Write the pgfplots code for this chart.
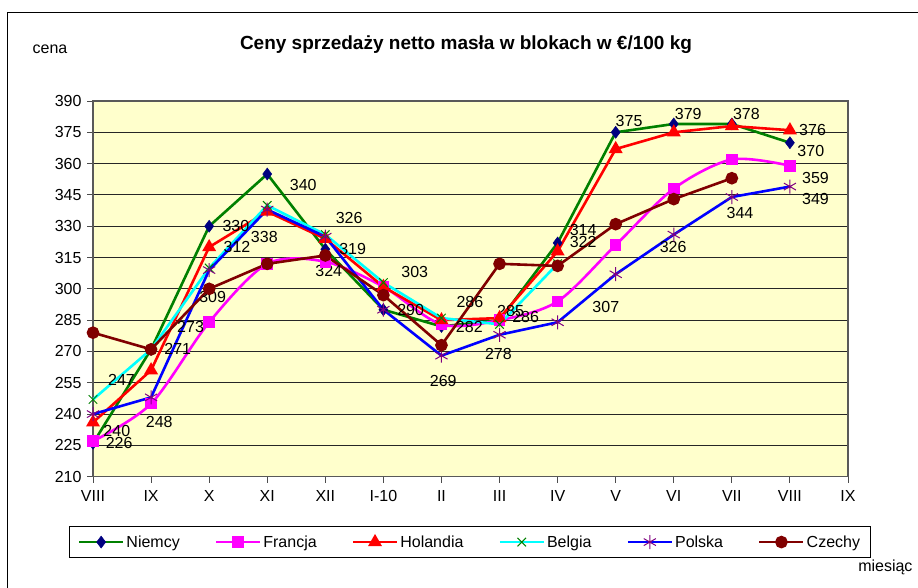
\documentclass[border=0pt]{standalone}
\usepackage{fontspec}
\setmainfont{Liberation Sans}
\usepackage{pgfplots}
\pgfplotsset{compat=1.18}
\definecolor{bgyellow}{RGB}{255,255,204}
\definecolor{dgreen}{RGB}{0,128,0}
\definecolor{navy}{RGB}{0,0,128}
\definecolor{purp}{RGB}{128,0,128}
\definecolor{maroon}{RGB}{128,0,0}
\definecolor{pmagenta}{RGB}{255,0,255}
\definecolor{pcyan}{RGB}{0,255,255}
\definecolor{pred}{RGB}{255,0,0}
\definecolor{pblue}{RGB}{0,0,255}
\newcommand\lbl{\fontsize{16bp}{19bp}\selectfont}
\begin{document}
\begin{tikzpicture}
\path[use as bounding box] (0,0) rectangle (918bp,-588bp);
\draw[line width=1bp] (7bp,-588bp) -- (7bp,-12bp) -- (918bp,-12bp);
\node[font=\bfseries\fontsize{19bp}{23bp}\selectfont] at (466bp,-45bp) {Ceny sprzedaży netto masła w blokach w €/100 kg};
\node[font=\lbl] at (50bp,-49bp) {cena};
\node[font=\lbl, anchor=east] at (916bp,-567bp) {miesiąc};
\begin{axis}[
  at={(93bp,-476.7bp)}, anchor=south west,
  width=755bp, height=375.7bp, scale only axis,
  xmin=0, xmax=13, ymin=210, ymax=390,
  xtick={0,...,13},
  xticklabels={VIII,IX,X,XI,XII,I-10,II,III,IV,V,VI,VII,VIII,IX},
  ytick={210,225,...,390},
  tick pos=left, tick align=outside,
  major tick length=6bp,
  tick style={black!70, line width=1bp},
  ticklabel style={font=\lbl},
  /pgf/number format/assume math mode=true,
  yticklabel style={xshift=-2bp},
  xticklabel style={yshift=-4bp},
  ymajorgrids,
  grid style={black!85, line width=1bp},
  axis line style={black!65, line width=1.5bp},
  axis background/.style={fill=bgyellow},
  clip=false,
  every axis plot/.append style={line width=2.6bp},
  legend columns=6,
  legend style={at={(0.4993,-0.174)}, anchor=center, font=\lbl,
    draw=black, line width=0.8bp, inner xsep=8bp, inner ysep=7bp,
    /tikz/every even column/.append style={column sep=33bp}},
  legend image code/.code={\draw[mark repeat=2,mark phase=2] plot coordinates {(0bp,0bp)(22bp,0bp)(44bp,0bp)};},
]
\addplot[dgreen, mark=diamond*, mark size=6bp, mark options={navy, fill=navy, line width=0.5bp}]
  coordinates {(0,226)(1,271)(2,330)(3,355)(4,319)(5,290)(6,282)(7,285)(8,322)(9,375)(10,379)(11,379)(12,370)};
\addlegendentry{Niemcy}
\addplot[pmagenta, smooth, mark=square*, mark size=4.5bp, mark options={pmagenta, fill=pmagenta}]
  coordinates {(0,227)(1,245)(2,284)(3,312)(4,313)(5,301)(6,283)(7,285)(8,294)(9,321)(10,348)(11,362)(12,359)};
\addlegendentry{Francja}
\addplot[pred, mark=triangle*, mark size=5.5bp, mark options={pred, fill=pred}]
  coordinates {(0,236)(1,261)(2,320)(3,337)(4,324)(5,301)(6,285)(7,286)(8,318)(9,367)(10,375)(11,378)(12,376)};
\addlegendentry{Holandia}
\addplot[pcyan, mark=x, mark size=6bp, mark options={dgreen, line width=1bp}]
  coordinates {(0,247)(1,271)(2,310)(3,340)(4,326)(5,303)(6,286)(7,283)(8,312)};
\addlegendentry{Belgia}
\addplot[pblue, mark=asterisk, mark size=7bp, mark options={purp, line width=1bp}]
  coordinates {(0,240)(1,248)(2,309)(3,338)(4,325)(5,290)(6,268)(7,278)(8,284)(9,307)(10,326)(11,344)(12,349)};
\addlegendentry{Polska}
\addplot[maroon, mark=*, mark size=5bp, mark options={maroon, fill=maroon}]
  coordinates {(0,279)(1,271)(2,300)(3,312)(4,316)(5,297)(6,273)(7,312)(8,311)(9,331)(10,343)(11,353)};
\addlegendentry{Czechy}
% data labels
\begin{scope}[every node/.style={font=\lbl, inner sep=0pt}]
\node at (axis cs:0.45,226.3) {226};
\node at (axis cs:0.41,231.9) {240};
\node at (axis cs:0.49,256.3) {247};
\node at (axis cs:1.14,236.3) {248};
\node at (axis cs:1.46,271.2) {271};
\node at (axis cs:1.68,281.6) {273};
\node at (axis cs:2.06,295.9) {309};
\node at (axis cs:2.48,320.2) {312};
\node at (axis cs:2.46,330.3) {330};
\node at (axis cs:2.95,324.7) {338};
\node at (axis cs:3.62,349.9) {340};
\node at (axis cs:4.41,333.9) {326};
\node at (axis cs:4.47,319.1) {319};
\node at (axis cs:4.06,308.5) {324};
\node at (axis cs:5.54,307.9) {303};
\node at (axis cs:5.47,289.9) {290};
\node at (axis cs:6.03,255.8) {269};
\node at (axis cs:6.49,293.8) {286};
\node at (axis cs:6.48,281.9) {282};
\node at (axis cs:7.19,289.5) {285};
\node at (axis cs:7.45,286.6) {286};
\node at (axis cs:6.98,268.8) {278};
\node at (axis cs:8.44,328.2) {314};
\node at (axis cs:8.44,322.6) {322};
\node at (axis cs:8.83,291.4) {307};
\node at (axis cs:9.23,380.6) {375};
\node at (axis cs:10.25,383.8) {379};
\node at (axis cs:11.25,383.8) {378};
\node at (axis cs:12.39,376.1) {376};
\node at (axis cs:12.36,366) {370};
\node at (axis cs:12.44,353.3) {359};
\node at (axis cs:12.44,343) {349};
\node at (axis cs:11.14,336.2) {344};
\node at (axis cs:9.99,320.2) {326};
\end{scope}
\end{axis}
\end{tikzpicture}
\end{document}
